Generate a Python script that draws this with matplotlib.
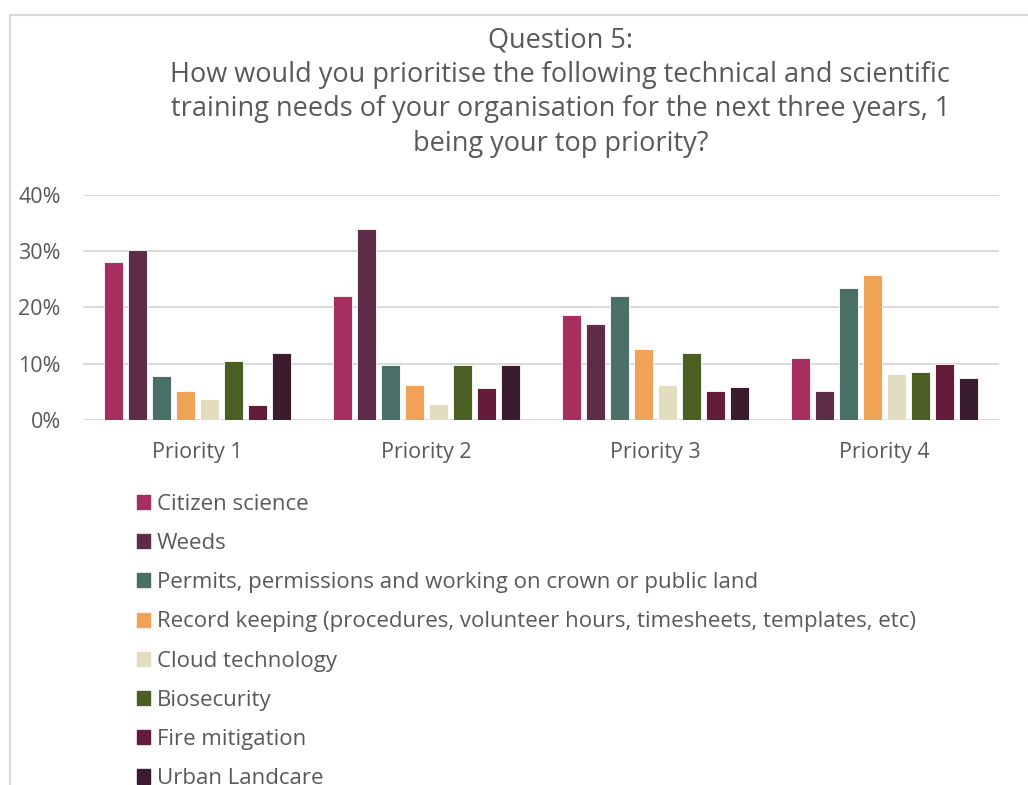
import matplotlib.pyplot as plt
from matplotlib.patches import Rectangle
from matplotlib.lines import Line2D
import numpy as np

plt.rcParams['font.family'] = ['Open Sans', 'DejaVu Sans']

# data (share of respondents)
priorities = ['Priority 1', 'Priority 2', 'Priority 3', 'Priority 4']
series = ['Citizen science',
          'Weeds',
          'Permits, permissions and working on crown or public land',
          'Record keeping (procedures, volunteer hours, timesheets, templates, etc)',
          'Cloud technology',
          'Biosecurity',
          'Fire mitigation',
          'Urban Landcare']
citizen = [0.28, 0.22, 0.186, 0.111]
weeds = [0.302, 0.339, 0.171, 0.052]
permits = [0.078, 0.097, 0.22, 0.235]
records = [0.052, 0.063, 0.127, 0.257]
cloud = [0.037, 0.029, 0.063, 0.081]
biosec = [0.105, 0.097, 0.119, 0.086]
fire = [0.026, 0.056, 0.052, 0.10]
urban = [0.119, 0.097, 0.059, 0.074]
values = [citizen, weeds, permits, records, cloud, biosec, fire, urban]
colors = ['#A62F60', '#5E2C48', '#4A6F66', '#F0A356',
          '#E2DDBF', '#4A6023', '#641C3A', '#3A1C2E']

txt = '#595959'

fig = plt.figure(figsize=(10.28, 7.85), dpi=100)
ax = fig.add_axes([0.0807, 0.465, 0.8913, 0.2866])

x = np.arange(len(priorities))
pitch = 0.1048
w = 0.083
for i, (vals, c) in enumerate(zip(values, colors)):
    ax.bar(x + (i - 3.5) * pitch, vals, width=w, color=c, label=series[i],
           edgecolor='white', linewidth=0.6, zorder=3)

ax.set_xlim(-0.5, 3.5)
ax.set_ylim(0, 0.4)
ax.set_yticks([0, 0.1, 0.2, 0.3, 0.4])
ax.set_yticklabels(['0%', '10%', '20%', '30%', '40%'])
ax.set_xticks(x)
ax.set_xticklabels(priorities)
ax.tick_params(length=0, labelsize=15.5, colors=txt)
ax.tick_params(axis='x', pad=16)
ax.tick_params(axis='y', pad=16)
ax.grid(axis='y', color='#D9D9D9', linewidth=1.4, zorder=0)
for s in ax.spines.values():
    s.set_visible(False)

fig.text(0.545, 0.966, 'Question 5:\nHow would you prioritise the following technical and scientific\n'
         'training needs of your organisation for the next three years, 1\nbeing your top priority?',
         ha='center', va='top', fontsize=19.5, color=txt, linespacing=1.3)

# chart frame (partially cropped)
fig.add_artist(Line2D([0.0097, 0.0097], [0, 0.981], color='#D9D9D9', lw=1.5))
fig.add_artist(Line2D([0.0097, 1.0], [0.981, 0.981], color='#D9D9D9', lw=1.5))

handles = [Rectangle((0, 0), 1, 1, color=c) for c in colors]
fig.legend(handles, series, loc='upper left', bbox_to_anchor=(0.133, 0.371),
           frameon=False, fontsize=16, labelcolor=txt, handlelength=0.6,
           handleheight=0.6, handletextpad=0.3, labelspacing=0.82,
           borderaxespad=0, borderpad=0)

fig.savefig('out.png', dpi=100)
